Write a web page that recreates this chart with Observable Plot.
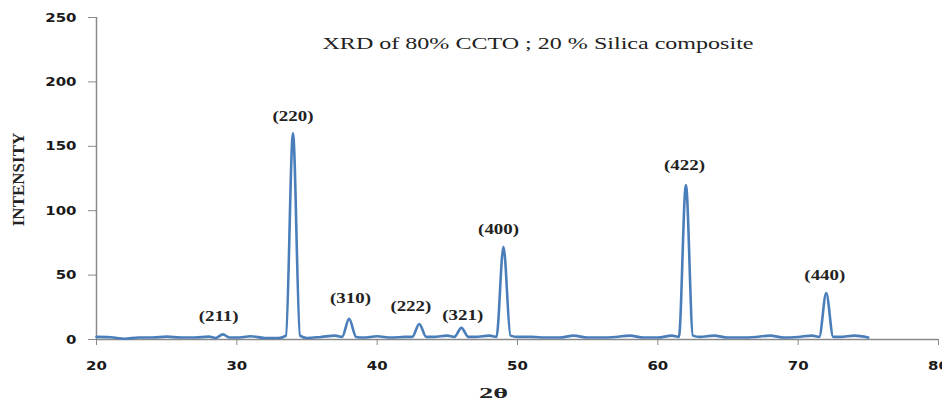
<!DOCTYPE html>
<html>
<head>
<meta charset="utf-8">
<script src="https://cdn.jsdelivr.net/npm/d3@7"></script>
<script src="https://cdn.jsdelivr.net/npm/@observablehq/plot@0.6"></script>
<style>
  html, body { margin: 0; padding: 0; background: #fff; }
  #chart svg { display: block; }
</style>
</head>
<body>
<div id="chart"></div>
<script>
// 2θ positions (degrees)
const twoTheta = [
  20, 21, 22, 23, 24, 25, 26, 27, 28, 28.5, 29, 29.5, 30, 31, 32, 33, 33.5, 34, 34.5, 35,
  36, 37, 37.5, 38, 38.5, 39, 40, 41, 42, 42.5, 43, 43.5, 44, 45, 45.5, 46, 46.5, 47,
  48, 48.5, 49, 49.5, 50, 51, 52, 53, 54, 55, 56, 57, 58, 59, 60, 61, 61.5, 62, 62.5,
  63, 64, 65, 66, 67, 68, 69, 70, 71, 71.5, 72, 72.5, 73, 74, 75
];
// intensity
const intensity = [
  2, 1.8, 0.6, 1.5, 1.5, 2.2, 1.5, 1.5, 2.2, 1.2, 4, 1.5, 1.5, 2.5, 1.2, 1.2, 3, 160, 3, 1.2,
  2, 3, 2, 16, 2, 1.5, 2.5, 1.5, 2, 2, 12, 2, 2, 3, 2, 9, 2, 2,
  3, 2, 72, 3, 2, 2, 1.5, 1.5, 3, 1.5, 1.5, 2, 3, 1.5, 1.5, 3, 2, 120, 3,
  2, 3, 1.5, 1.5, 2, 3, 1.5, 2, 3, 2, 36, 2, 2, 3, 1.5
];
// peak annotations (Miller indices) and their positions
const peakLabels = ["(211)", "(220)", "(310)", "(222)", "(321)", "(400)", "(422)", "(440)"];
const labelX = [28.7, 34.0, 38.1, 42.4, 46.1, 48.65, 61.9, 71.9];
const labelY = [17.9, 173, 31.8, 25.6, 18.6, 85.4, 135, 49.7];

const xTicks = [20, 30, 40, 50, 60, 70, 80];
const yTicks = [0, 50, 100, 150, 200, 250];

const title = "XRD of 80% CCTO ; 20 % Silica composite";
const xTitle = "2θ";
const yTitle = "INTENSITY";

const data = twoTheta.map((t, i) => ({t, v: intensity[i]}));
const labels = peakLabels.map((s, i) => ({s, x: labelX[i], y: labelY[i]}));

const axisGray = "#8a8a8a";
const lineBlue = "#4a7ebb";
const serif = "'Liberation Serif', 'Times New Roman', serif";
const sans = "'DejaVu Sans', Verdana, sans-serif";

const chart = Plot.plot({
  width: 942,
  height: 401,
  marginLeft: 96,
  marginRight: 4,
  marginTop: 17,
  marginBottom: 62,
  style: {background: "#fff", overflow: "visible"},
  x: {domain: [20, 80], ticks: xTicks},
  y: {domain: [0, 250], ticks: yTicks},
  marks: [
    Plot.axisY({
      ticks: yTicks, tickSize: 8, tickPadding: 12, stroke: axisGray, fill: "#1a1a1a",
      fontSize: 13, fontWeight: "bold", fontFamily: sans, label: null
    }),
    Plot.axisX({
      ticks: xTicks, tickSize: 6, tickPadding: 15, stroke: axisGray, fill: "#1a1a1a",
      fontSize: 13, fontWeight: "bold", fontFamily: sans, label: null
    }),
    Plot.ruleX([20], {stroke: axisGray, strokeWidth: 1.5}),
    Plot.ruleY([0], {stroke: axisGray, strokeWidth: 1.5}),
    Plot.line(data, {x: "t", y: "v", stroke: lineBlue, strokeWidth: 2.6, curve: "monotone-x"}),
    Plot.text(labels, {
      x: "x", y: "y", text: "s", fill: "#222", fontSize: 14, fontWeight: "bold",
      fontFamily: serif
    }),
    Plot.text([title], {
      frameAnchor: "top-left", text: d => d, dx: 226, dy: 20, textAnchor: "start",
      fontSize: 16, fontFamily: serif, fill: "#222"
    }),
    Plot.text([xTitle], {
      frameAnchor: "bottom", text: d => d, dx: -24, dy: 58,
      fontSize: 15, fontWeight: "bold", fontFamily: serif, fill: "#222"
    }),
    Plot.text([yTitle], {
      frameAnchor: "left", textAnchor: "middle", text: d => d, rotate: -90, dx: -78, dy: 1,
      fontSize: 17, fontWeight: "bold", fontFamily: serif, fill: "#222"
    })
  ]
});
document.getElementById("chart").appendChild(chart);

// The reference rendering is horizontally stretched; widen glyphs to match.
function setLen(t, len) {
  t.setAttribute("lengthAdjust", "spacingAndGlyphs");
  t.setAttribute("textLength", len);
}
const tickText = new Set([...xTicks, ...yTicks].map(String));
chart.querySelectorAll("text").forEach(t => {
  const s = t.textContent;
  const len = t.getComputedTextLength();
  if (peakLabels.includes(s)) setLen(t, len * 1.35);
  else if (s === title) setLen(t, 431);
  else if (s === xTitle) setLen(t, 29);
  else if (tickText.has(s)) setLen(t, len * 1.15);
});
</script>
</body>
</html>
